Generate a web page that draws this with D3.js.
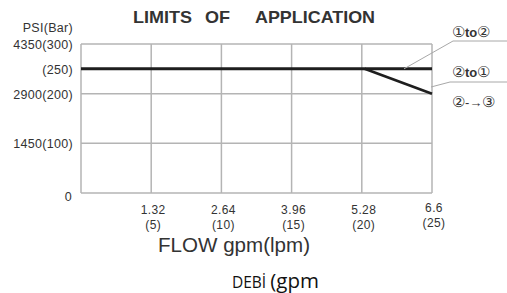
<!DOCTYPE html>
<html>
<head>
<meta charset="utf-8">
<script src="https://cdn.jsdelivr.net/npm/d3@7"></script>
<style>
  body { margin: 0; background: #fff; }
  svg { display: block; }
  text { font-family: "Liberation Sans", Arial, sans-serif; fill: #333; }
</style>
</head>
<body>
<svg width="507" height="293"></svg>
<script>
const width = 507;
const height = 293;

// flow in lpm, pressure in bar
const flowTicks = [5, 10, 15, 20, 25];
const gpmLabels = ["1.32", "2.64", "3.96", "5.28", "6.6"];
const barTicks = [0, 100, 200, 250, 300];
const barLabels = ["0", "1450(100)", "2900(200)", "(250)", "4350(300)"];
const gridBars = [100, 200, 300];

const line12 = [[0, 250], [25, 250]];
const line21 = [[20.2, 250], [25, 200]];

const x = d3.scaleLinear().domain([0, 25]).range([81, 432]);
const y = d3.scaleLinear().domain([0, 300]).range([193, 44]);

const svg = d3.select("svg");

// grid
const grid = svg.append("g").attr("stroke", "#b4b4b4").attr("stroke-width", 1.5);
grid.selectAll(".v").data([0].concat(flowTicks)).join("line")
  .attr("x1", d => x(d)).attr("x2", d => x(d))
  .attr("y1", y(0)).attr("y2", y(300));
grid.selectAll(".h").data([0].concat(gridBars)).join("line")
  .attr("x1", x(0)).attr("x2", x(25))
  .attr("y1", d => y(d)).attr("y2", d => y(d));

// y labels
svg.append("g").selectAll("text").data(barTicks).join("text")
  .attr("x", d => d === 0 ? 72 : 73)
  .attr("y", d => y(d) + (d === 0 ? 8 : 5))
  .attr("text-anchor", "end")
  .attr("font-size", 12.5)
  .attr("letter-spacing", 0.3)
  .text((d, i) => barLabels[i]);
svg.append("text").attr("x", 73).attr("y", 32).attr("text-anchor", "end")
  .attr("font-size", 12.5).attr("letter-spacing", 0.3).text("PSI(Bar)");

// x labels
const xl = svg.append("g").selectAll("g").data(flowTicks).join("g")
  .attr("transform", d => `translate(${x(d) + 2},${d === 25 ? -2 : 0})`);
xl.append("text").attr("y", 214).attr("text-anchor", "middle")
  .attr("font-size", 12).attr("letter-spacing", 0.4).text((d, i) => gpmLabels[i]);
xl.append("text").attr("y", 229).attr("text-anchor", "middle")
  .attr("font-size", 12).attr("letter-spacing", 0.4).text(d => `(${d})`);

// lines
const path = d3.line().x(d => x(d[0])).y(d => y(d[1]));
svg.append("path").attr("d", path(line12)).attr("fill", "none")
  .attr("stroke", "#1e1e1e").attr("stroke-width", 3);
svg.append("path").attr("d", path(line21)).attr("fill", "none")
  .attr("stroke", "#1e1e1e").attr("stroke-width", 2.6);

// leaders with underline
const lead = svg.append("g").attr("stroke", "#a8a8a8").attr("stroke-width", 1).attr("fill", "none");
lead.append("path").attr("d", `M404,${y(250)}L453,41H507`);
lead.append("path").attr("d", `M431,87L450,82H507`);

// legend labels
const lg = svg.append("g").style("font-family", "'Noto Sans CJK JP'").attr("font-size", 15);
function legendRow(yy, a, mid, b, bold) {
  const t = lg.append("text").attr("x", 452).attr("y", yy);
  t.append("tspan").text(a);
  t.append("tspan").attr("font-weight", bold ? "bold" : "normal").attr("font-size", 13).text(mid);
  t.append("tspan").text(b);
}
legendRow(37, "\u2460", "to", "\u2461", true);
legendRow(77, "\u2461", "to", "\u2460", true);
legendRow(107, "\u2461", "\u2010\u2192", "\u2462", false);

// title
const title = [["LIMITS", 133, 59], ["OF", 205, 25], ["APPLICATION", 255, 120]];
svg.append("g").selectAll("text").data(title).join("text")
  .attr("x", d => d[1]).attr("y", 23)
  .attr("font-size", 16.5).attr("font-weight", "bold").attr("fill", "#2a2a2a")
  .attr("textLength", d => d[2]).attr("lengthAdjust", "spacingAndGlyphs")
  .text(d => d[0]);

svg.append("text").attr("x", 158).attr("y", 252)
  .attr("font-size", 19.5).attr("textLength", 152).attr("lengthAdjust", "spacingAndGlyphs")
  .text("FLOW gpm(lpm)");

const deb = svg.append("text").attr("x", 232).attr("y", 288)
  .style("font-family", "'Open Sans'").style("fill", "#111");
deb.append("tspan").attr("font-size", 15.5).text("DEB\u0130 ");
deb.append("tspan").attr("font-size", 20.5).text("(gpm");
</script>
</body>
</html>
